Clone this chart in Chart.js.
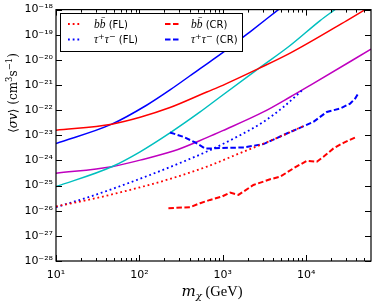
<!DOCTYPE html>
<html><head><meta charset="utf-8">
<script src="https://cdn.jsdelivr.net/npm/chart.js@4.4.1/dist/chart.umd.min.js"></script>
<style>html,body{margin:0;padding:0;background:#fff;}canvas{display:block;}</style>
</head><body>
<canvas id="c" width="374" height="304" style="width:374px;height:304px"></canvas>
<script>
// ---- tick values ----
const xTickVals = [10, 100, 1000, 10000];
const yTickVals = [1e-28, 1e-27, 1e-26, 1e-25, 1e-24, 1e-23, 1e-22, 1e-21, 1e-20, 1e-19, 1e-18];

// ---- series (mass in GeV, <sigma v> in cm^3/s) ----
const mRedSolid  = [10, 46.6, 102, 233, 643, 1000, 2680, 6427, 30760, 48750, 60000];
const svRedSolid = [1.6e-23, 2.77e-23, 5.24e-23, 1.27e-22, 5.27e-22, 9.73e-22, 4.47e-21, 1.85e-20, 3.66e-19, 9.1e-19, 1.4e-18];

const mBlueSolid  = [10, 46.6, 122, 233, 535, 1018, 2128, 4656, 8472];
const svBlueSolid = [4.75e-24, 2.77e-23, 1.57e-22, 6.38e-22, 4.51e-21, 2.03e-20, 1.31e-19, 1e-18, 4.7e-18];

const mCyanSolid  = [10, 46.6, 102, 233, 535, 929, 2680, 6427, 14720, 21280, 29380];
const svCyanSolid = [9.06e-26, 5.61e-25, 2.21e-24, 1.25e-23, 8.5e-23, 3.34e-22, 4.47e-21, 3.74e-20, 3.66e-19, 9.1e-19, 1.98e-18];

const mMagSolid  = [10, 46.6, 102, 256, 643, 1000, 3076, 6427, 11170, 60000];
const svMagSolid = [3.08e-25, 5.61e-25, 1.03e-24, 2.36e-24, 8.07e-24, 1.53e-23, 8.5e-23, 3.34e-22, 9.73e-22, 2.67e-20];

const mBbFL  = [10, 24.2, 61.9, 117, 253, 649, 1614, 4018, 6427, 9204];
const svBbFL = [1.49e-26, 2.69e-26, 5.58e-26, 9.66e-26, 2.0e-25, 5.71e-25, 1.96e-24, 6.73e-24, 1.33e-23, 2.31e-23];

const mTauFL  = [10, 25.6, 64.3, 213, 705, 1614, 3076, 5346, 8955];
const svTauFL = [1.38e-26, 3.63e-26, 1.06e-25, 4.85e-25, 2.58e-24, 1.01e-23, 3.41e-23, 1.34e-22, 6.17e-22];

const mBbCR  = [223, 405, 535, 705, 973, 1225, 1542, 2333, 3698, 4875, 7047, 10190, 13430, 16140, 21280, 28050, 38730];
const svBbCR = [1.26e-26, 1.38e-26, 1.99e-26, 2.69e-26, 3.63e-26, 5.24e-26, 4.25e-26, 1.06e-25, 1.78e-25, 2.25e-25, 4.85e-25, 9.7e-25, 8.87e-25, 1.4e-24, 3.01e-24, 5.02e-24, 8.22e-24];

const mTauCR  = [233, 337, 466, 614, 738, 929, 1770, 3076, 5861, 12250, 17700, 25590, 33730, 38730, 42460];
const svTauCR = [1.3e-23, 8.7e-24, 5.21e-24, 3.01e-24, 3.01e-24, 3.1e-24, 3.3e-24, 4.46e-24, 1.18e-23, 3.41e-23, 8.5e-23, 1.16e-22, 1.83e-22, 2.89e-22, 4.82e-22];

// ---- helpers ----
const pts = (xs, ys) => xs.map((x, i) => ({x: x, y: ys[i]}));
const SUP = {'-':'\u207B','0':'\u2070','1':'\u00B9','2':'\u00B2','3':'\u00B3','4':'\u2074','5':'\u2075','6':'\u2076','7':'\u2077','8':'\u2078','9':'\u2079'};
const sup = s => s.split('').map(c => SUP[c] || c).join('');
const pow10Label = v => '10' + sup(String(Math.round(Math.log10(v))));

const RED = '#ff0000', BLUE = '#0000ff', CYAN = '#00bfbf', MAG = '#bf00bf';
const DOT = [1.8, 2.9], DASH = [5.5, 2.5];

function ds(label, xs, ys, color, width, dash, smooth) {
  return {
    label: label, data: pts(xs, ys), borderColor: color, backgroundColor: color,
    borderWidth: width, borderDash: dash, pointRadius: 0, fill: false,
    cubicInterpolationMode: smooth ? 'monotone' : 'default', tension: 0,
    borderCapStyle: 'butt'
  };
}

function rich(ctx, parts, x, y, align) {
  let w = 0;
  parts.forEach(p => { ctx.font = p.f; p.w = ctx.measureText(p.t).width; w += p.w; });
  let cx = align === 'center' ? x - w / 2 : x;
  parts.forEach(p => { ctx.font = p.f; ctx.fillText(p.t, cx, y + (p.dy || 0)); cx += p.w; });
  return w;
}

const overlay = {
  id: 'overlay',
  afterDraw(chart) {
    const ctx = chart.ctx, a = chart.chartArea, xs = chart.scales.x, ys = chart.scales.y;
    ctx.save();
    ctx.strokeStyle = '#000';
    ctx.lineWidth = 1;
    const seg = (x1, y1, x2, y2) => { ctx.beginPath(); ctx.moveTo(x1, y1); ctx.lineTo(x2, y2); ctx.stroke(); };
    // x ticks
    xTickVals.forEach(v => {
      const px = Math.round(xs.getPixelForValue(v)) + 0.5;
      seg(px, a.bottom, px, a.bottom - 6); seg(px, a.top, px, a.top + 6);
      for (let k = 2; k <= 9; k++) {
        const mv = k * v;
        if (mv >= xs.max) continue;
        const mp = Math.round(xs.getPixelForValue(mv)) + 0.5;
        seg(mp, a.bottom, mp, a.bottom - 3); seg(mp, a.top, mp, a.top + 3);
      }
    });
    // y ticks
    yTickVals.forEach(v => {
      const py = Math.round(ys.getPixelForValue(v)) + 0.5;
      seg(a.left, py, a.left + 6, py); seg(a.right, py, a.right - 6, py);
    });
    // frame
    ctx.lineWidth = 1.2;
    ctx.strokeRect(a.left, a.top, a.right - a.left, a.bottom - a.top);

    // legend
    ctx.fillStyle = '#fff';
    ctx.fillRect(60.5, 13.5, 182, 38);
    ctx.lineWidth = 1;
    ctx.strokeStyle = '#000';
    ctx.strokeRect(60.5, 13.5, 182, 38);
    const rows = [24, 39.5];
    const entries = [
      {col: 0, row: 0, c: RED, dash: DOT, w: 1.8, txt: 'bb'},
      {col: 0, row: 1, c: BLUE, dash: DOT, w: 1.8, txt: 'tt'},
      {col: 1, row: 0, c: RED, dash: DASH, w: 2, txt: 'bb'},
      {col: 1, row: 1, c: BLUE, dash: DASH, w: 2, txt: 'tt'}
    ];
    const mx = [68, 165], tx = [94, 191];
    entries.forEach(e => {
      const y = rows[e.row];
      ctx.strokeStyle = e.c; ctx.lineWidth = e.w; ctx.setLineDash(e.dash);
      seg(mx[e.col], y, mx[e.col] + 14, y);
      ctx.setLineDash([]);
      ctx.fillStyle = '#000';
      ctx.textBaseline = 'alphabetic'; ctx.textAlign = 'left';
      const suffix = e.col === 0 ? ' (FL)' : ' (CR)';
      const ital = 'italic 11.5px "Liberation Serif"';
      const sans = '10px "DejaVu Sans"';
      if (e.txt === 'bb') {
        rich(ctx, [{t: 'bb\u0304', f: ital}, {t: suffix, f: sans}], tx[e.col], y + 3.5);
      } else {
        rich(ctx, [{t: '\u03C4', f: ital}, {t: '+', f: '8px "DejaVu Serif"', dy: -4},
                   {t: '\u03C4', f: ital}, {t: '\u2212', f: '8px "DejaVu Serif"', dy: -4},
                   {t: suffix, f: sans}], tx[e.col], y + 3.5);
      }
    });

    // axis titles
    ctx.fillStyle = '#000';
    ctx.textBaseline = 'alphabetic';
    rich(ctx, [{t: 'm', f: 'italic 15px "DejaVu Serif"'}, {t: '\u03C7', f: 'italic 10px "DejaVu Serif"', dy: 3},
               {t: ' (GeV)', f: '14.5px "Liberation Serif"'}], 212, 296, 'center');
    const R = '12px "DejaVu Serif"', I = 'italic 12px "DejaVu Serif"', S = '8.5px "DejaVu Serif"';
    ctx.save();
    ctx.translate(17, 93);
    ctx.rotate(-Math.PI / 2);
    rich(ctx, [{t: '\u27E8', f: R}, {t: '\u03C3v', f: I}, {t: '\u27E9', f: R},
               {t: ' (cm', f: R}, {t: '3', f: S, dy: -5}, {t: 's', f: R}, {t: '\u22121', f: S, dy: -5}, {t: ')', f: R}], 0, 0, 'center');
    ctx.restore();
    ctx.restore();
  }
};

new Chart(document.getElementById('c'), {
  type: 'line',
  data: {
    datasets: [
      ds('b b\u0304 (FL)', mBbFL, svBbFL, RED, 1.8, DOT, true),
      ds('\u03C4+\u03C4\u2212 (FL)', mTauFL, svTauFL, BLUE, 1.8, DOT, true),
      ds('b b\u0304 (CR)', mBbCR, svBbCR, RED, 2, DASH, false),
      ds('\u03C4+\u03C4\u2212 (CR)', mTauCR, svTauCR, BLUE, 2, DASH, false),
      ds('red', mRedSolid, svRedSolid, RED, 1.5, [], true),
      ds('blue', mBlueSolid, svBlueSolid, BLUE, 1.5, [], true),
      ds('cyan', mCyanSolid, svCyanSolid, CYAN, 1.5, [], true),
      ds('magenta', mMagSolid, svMagSolid, MAG, 1.5, [], true)
    ]
  },
  options: {
    responsive: false, animation: false, devicePixelRatio: 1,
    layout: {padding: {top: 9, right: 3, left: 0, bottom: 0}},
    plugins: {legend: {display: false}, tooltip: {enabled: false}},
    scales: {
      x: {
        type: 'logarithmic', min: 10, max: 60000,
        grid: {display: false, drawTicks: false}, border: {display: false},
        afterBuildTicks: s => { s.ticks = xTickVals.map(v => ({value: v})); },
        afterFit: s => { s.height = 43; },
        ticks: {autoSkip: false, maxRotation: 0, minRotation: 0, padding: 8, color: '#000',
                font: {family: 'DejaVu Sans', size: 11}, callback: v => pow10Label(v)}
      },
      y: {
        type: 'logarithmic', min: 1e-28, max: 1e-18,
        grid: {display: false, drawTicks: false}, border: {display: false},
        afterBuildTicks: s => { s.ticks = yTickVals.map(v => ({value: v})); },
        afterFit: s => { s.width = 56; },
        ticks: {autoSkip: false, padding: 3, color: '#000',
                font: {family: 'DejaVu Sans', size: 11}, callback: v => pow10Label(v)}
      }
    }
  },
  plugins: [overlay]
});
</script>
</body></html>
